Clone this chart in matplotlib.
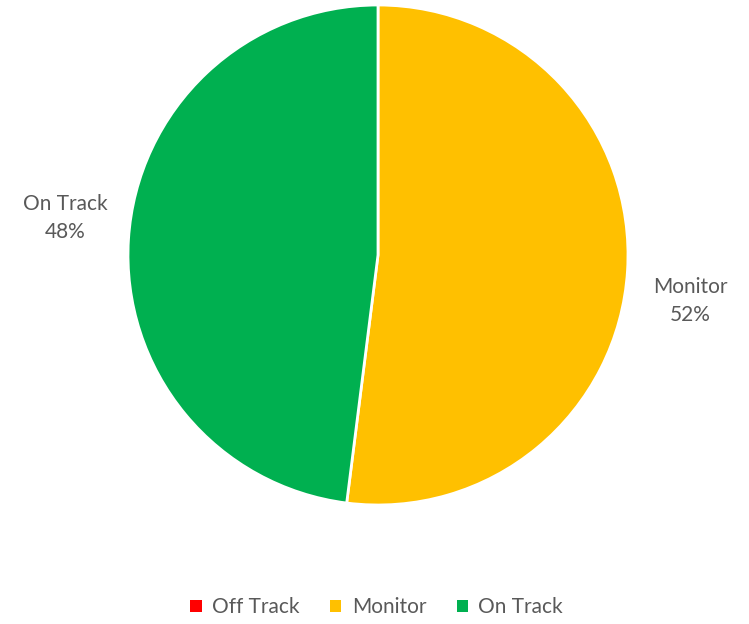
import matplotlib.pyplot as plt
from matplotlib.patches import Patch

# data
categories = ['Off Track', 'Monitor', 'On Track']
values = [0, 52, 48]
colors = ['#FF0000', '#FFC000', '#00B050']

plt.rcParams['font.family'] = ['Lato', 'DejaVu Sans']
text_color = '#595959'

fig = plt.figure(figsize=(7.49, 6.24), dpi=100)
ax = fig.add_axes([0, 0, 1, 1])

total = sum(values)
labels = [f'{c}\n{v / total * 100:.0f}%' if v > 0 else '' for c, v in zip(categories, values)]

wedges, texts = ax.pie(values, colors=colors, startangle=90, counterclock=False,
                       center=(378, 369), radius=250, labels=labels, labeldistance=1.26,
                       wedgeprops=dict(edgecolor='white', linewidth=2),
                       textprops=dict(color=text_color, fontsize=15, ha='center',
                                      va='center', linespacing=1.55))
# best-fit label spots like the original
texts[1].set_position((690, 323))
texts[2].set_position((65, 406))

ax.set_xlim(0, 749)
ax.set_ylim(0, 624)
ax.set_aspect('equal')
ax.axis('off')

handles = [Patch(facecolor=c, label=l) for c, l in zip(colors, categories)]
fig.legend(handles=handles, loc='center', bbox_to_anchor=(0.503, 0.027), ncol=3,
           frameon=False, fontsize=15, handlelength=0.55, handleheight=0.55,
           handletextpad=0.5, columnspacing=1.45, labelcolor=text_color)

fig.savefig('out.png', dpi=100)
